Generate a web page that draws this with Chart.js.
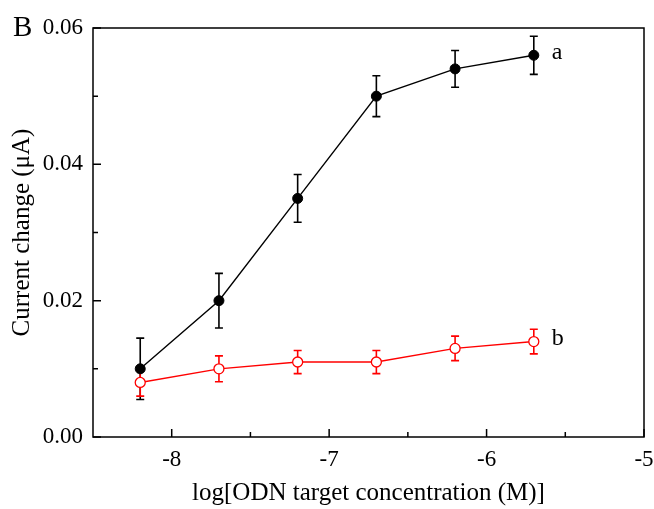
<!DOCTYPE html>
<html>
<head>
<meta charset="utf-8">
<script src="https://cdn.jsdelivr.net/npm/chart.js@4/dist/chart.umd.min.js"></script>
<style>
  html, body { margin: 0; padding: 0; background: #fff; }
  #wrap { width: 654px; height: 509px; }
</style>
</head>
<body>
<div id="wrap"><canvas id="grafica" width="654" height="509"></canvas></div>
<script>
// datos
var logConc = [-8.2, -7.7, -7.2, -6.7, -6.2, -5.7]
var serieA = [0.010, 0.020, 0.035, 0.050, 0.054, 0.056]
var errorA = [0.0045, 0.004, 0.0035, 0.003, 0.0027, 0.0028]
var serieB = [0.008, 0.010, 0.011, 0.011, 0.013, 0.014]
var errorB = [0.002, 0.0019, 0.0017, 0.0017, 0.0018, 0.0018]
var ticksX = [-8, -7, -6, -5]
var menoresX = [-7.5, -6.5, -5.5]
var ticksY = [0, 0.02, 0.04, 0.06]
var menoresY = [0.01, 0.03, 0.05]
var etiquetas = ['a', 'b']

var fuente = 'Liberation Serif'

const puntos = (xs, ys, err) => xs.map((x, i) => ({ x: x, y: ys[i], e: err[i] }))

// barras de error, marco y ticks hacia dentro
const extras = {
  id: 'extras',
  beforeDatasetsDraw(chart) {
    const c = chart.ctx, sx = chart.scales.x, sy = chart.scales.y
    chart.data.datasets.forEach((ds, k) => {
      c.save()
      c.strokeStyle = ds.borderColor
      c.lineWidth = 1.6
      ds.data.forEach(p => {
        const px = sx.getPixelForValue(p.x)
        const y1 = sy.getPixelForValue(p.y + p.e)
        const y2 = sy.getPixelForValue(p.y - p.e)
        c.beginPath()
        c.moveTo(px, y1); c.lineTo(px, y2)
        c.moveTo(px - 4, y1); c.lineTo(px + 4, y1)
        c.moveTo(px - 4, y2); c.lineTo(px + 4, y2)
        c.stroke()
      })
      c.restore()
    })
  },
  afterDraw(chart) {
    const c = chart.ctx, a = chart.chartArea, sx = chart.scales.x, sy = chart.scales.y
    c.save()
    c.strokeStyle = '#000'
    c.lineWidth = 1.5
    c.strokeRect(a.left, a.top, a.right - a.left, a.bottom - a.top)
    c.beginPath()
    ticksX.forEach(v => { const p = sx.getPixelForValue(v); c.moveTo(p, a.bottom); c.lineTo(p, a.bottom - 8) })
    menoresX.forEach(v => { const p = sx.getPixelForValue(v); c.moveTo(p, a.bottom); c.lineTo(p, a.bottom - 5) })
    ticksY.forEach(v => { const p = sy.getPixelForValue(v); c.moveTo(a.left, p); c.lineTo(a.left + 8, p) })
    menoresY.forEach(v => { const p = sy.getPixelForValue(v); c.moveTo(a.left, p); c.lineTo(a.left + 5, p) })
    c.stroke()
    // letras a y b junto al ultimo punto
    c.fillStyle = '#000'
    c.font = '24px "' + fuente + '"'
    c.textBaseline = 'middle'
    chart.data.datasets.forEach((ds, k) => {
      const last = ds.data[ds.data.length - 1]
      c.fillText(etiquetas[k], sx.getPixelForValue(last.x) + 18, sy.getPixelForValue(last.y) - 3)
    })
    c.font = '29px "' + fuente + '"'
    c.textBaseline = 'alphabetic'
    c.fillText('B', 13, 36)
    c.restore()
  }
}

var ctx = document.getElementById('grafica')
var grafica = new Chart(ctx, {
  type: 'line',
  data: {
    datasets: [{
      label: 'a',
      data: puntos(logConc, serieA, errorA),
      borderColor: '#000',
      backgroundColor: '#000',
      borderWidth: 1.4,
      pointRadius: 5,
      pointBorderWidth: 1,
      pointBackgroundColor: '#000'
    }, {
      label: 'b',
      data: puntos(logConc, serieB, errorB),
      borderColor: '#ff0000',
      backgroundColor: '#fff',
      borderWidth: 1.4,
      pointRadius: 5,
      pointBorderWidth: 1.3,
      pointBackgroundColor: '#fff'
    }]
  },
  options: {
    responsive: false,
    animation: false,
    layout: { padding: { top: 28, right: 0, left: 0, bottom: 0 } },
    plugins: { legend: { display: false }, tooltip: { enabled: false } },
    scales: {
      x: {
        type: 'linear',
        min: -8.5, max: -5,
        afterBuildTicks: s => { s.ticks = ticksX.map(v => ({ value: v })) },
        afterFit: s => { s.height = 72; s.paddingRight = 10 },
        grid: { display: false, drawTicks: false },
        border: { display: false },
        ticks: { color: '#000', padding: 9, font: { family: fuente, size: 23 }, callback: v => String(v) },
        title: { display: true, text: 'log[ODN target concentration (M)]', color: '#000', padding: { top: 4, bottom: 1 }, font: { family: fuente, size: 25 } }
      },
      y: {
        min: 0, max: 0.06,
        afterBuildTicks: s => { s.ticks = ticksY.map(v => ({ value: v })) },
        afterFit: s => { s.width = 93 },
        grid: { display: false, drawTicks: false },
        border: { display: false },
        ticks: { color: '#000', padding: 10, font: { family: fuente, size: 23 }, callback: v => v.toFixed(2) },
        title: { display: true, text: 'Current change (μA)', color: '#000', padding: { top: 7, bottom: 4 }, font: { family: fuente, size: 25 } }
      }
    }
  },
  plugins: [extras]
})
</script>
</body>
</html>
